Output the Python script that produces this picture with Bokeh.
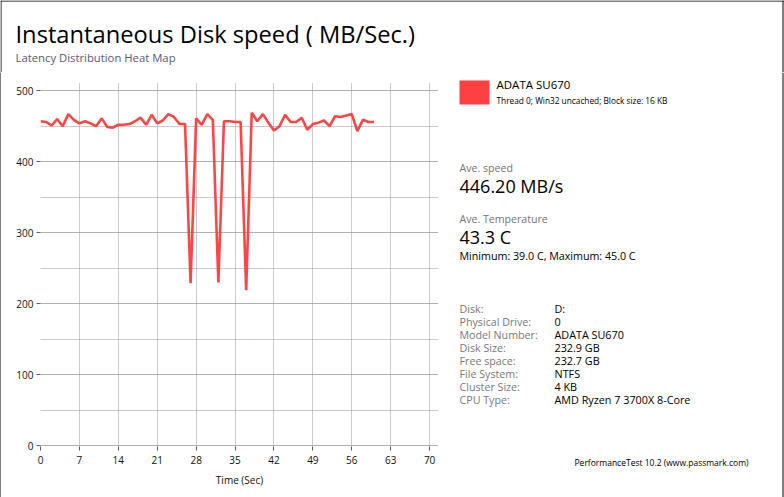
from bokeh.plotting import figure
from bokeh.layouts import row, column
from bokeh.models import SingleIntervalTicker, Range1d
from bokeh.core.properties import value
from bokeh.embed import file_html
from bokeh.resources import INLINE

# ---- data ----
time_sec = list(range(61))
speed_mbs = [457, 456, 451, 460, 450, 467, 459, 454, 457, 454,
             450, 461, 449, 448, 452, 452, 453, 457, 462, 452,
             466, 454, 458, 467, 463, 453, 453, 229, 461, 452,
             467, 459, 230, 457, 457, 456, 456, 219, 469, 457,
             467, 455, 444, 450, 466, 456, 456, 462, 445, 453,
             455, 458, 450, 464, 463, 465, 467, 443, 459, 456, 456]
x_tick_step = 7
y_tick_step = 100

title_text = "Instantaneous Disk speed ( MB/Sec.)"
subtitle_text = "Latency Distribution Heat Map"
series_name = "ADATA SU670"
series_desc = "Thread 0; Win32 uncached; Block size: 16 KB"
ave_speed_label = "Ave. speed"
ave_speed_value = "446.20 MB/s"
ave_temp_label = "Ave. Temperature"
ave_temp_value = "43.3 C"
temp_range = "Minimum: 39.0 C, Maximum: 45.0 C"
info_keys = ["Disk:", "Physical Drive:", "Model Number:", "Disk Size:",
             "Free space:", "File System:", "Cluster Size:", "CPU Type:"]
info_vals = ["D:", "0", "ADATA SU670", "232.9 GB", "232.7 GB", "NTFS",
             "4 KB", "AMD Ryzen 7 3700X 8-Core"]
footer = "PerformanceTest 10.2 (www.passmark.com)"

FONT = "Open Sans"
RED = "#ff3c3c"
W, H = 784, 497
HEAD_H = 72
CHART_W = 445
INFO_W = W - 1 - CHART_W
BODY_H = H - HEAD_H


def no_align(f):
    try:
        f.frame_align = False
    except Exception:
        pass


def text_fig(width, height, x0, y0):
    f = figure(width=width, height=height, output_backend="svg", toolbar_location=None,
               x_range=Range1d(x0, x0 + width), y_range=Range1d(y0 + height, y0),
               x_axis_type=None, y_axis_type=None, min_border=0)
    f.outline_line_color = None
    f.background_fill_color = "white"
    f.border_fill_color = "white"
    f.grid.visible = False
    no_align(f)
    return f


def put(f, txt, x, y, size, color="#000000"):
    # y is the visual baseline in page pixels; correct for renderer offset
    f.text(x=[x], y=[y - 0.42 * size], text=[txt], text_font=value(FONT),
           text_font_size=f"{size}px", text_color=color,
           text_baseline="alphabetic", text_align="left")


# ---- header ----
head = text_fig(W, HEAD_H, 0, 0)
head.segment(x0=[0, 0.5, 782.5], y0=[0.5, 0, 0], x1=[784, 0.5, 782.5], y1=[0.5, HEAD_H, HEAD_H],
             line_color="black", line_width=1)
put(head, title_text, 15, 43, 23.7)
put(head, subtitle_text, 15, 62, 11.3, "#5c5878")

# ---- left border strip ----
strip = figure(width=1, height=BODY_H, output_backend="svg", toolbar_location=None,
               x_axis_type=None, y_axis_type=None, min_border=0)
strip.outline_line_color = None
strip.background_fill_color = "black"
strip.border_fill_color = "black"
strip.grid.visible = False
no_align(strip)

# ---- chart ----
p = figure(width=CHART_W, height=BODY_H, output_backend="svg", toolbar_location=None,
           x_range=Range1d(0, 71.6), y_range=Range1d(-0.8, 511.5),
           min_border_left=39, min_border_right=CHART_W - 39 - 398,
           min_border_top=10, min_border_bottom=51)
p.outline_line_color = None
p.background_fill_color = "white"
p.border_fill_color = "white"
no_align(p)

p.line(time_sec, speed_mbs, line_color=RED, line_width=2.6, line_alpha=0.95)

p.xaxis.ticker = SingleIntervalTicker(interval=x_tick_step, num_minor_ticks=0)
p.yaxis.ticker = SingleIntervalTicker(interval=y_tick_step, num_minor_ticks=2)
for ax in (p.xaxis[0], p.yaxis[0]):
    ax.axis_line_color = None
    ax.major_tick_line_color = "#606060"
    ax.major_tick_out = 4
    ax.major_tick_in = 0
    ax.minor_tick_line_color = None
    ax.major_label_text_font = FONT
    ax.major_label_text_font_size = "10px"
    ax.major_label_text_color = "#111111"
p.xaxis.major_label_standoff = 5
p.yaxis.major_label_standoff = 3
p.xaxis.axis_label = "Time (Sec)"
p.xaxis.axis_label_text_font = FONT
p.xaxis.axis_label_text_font_size = "10px"
p.xaxis.axis_label_text_font_style = "normal"
p.xaxis.axis_label_text_color = "#111111"
p.xaxis.axis_label_standoff = 6

for g in (p.xgrid[0], p.ygrid[0]):
    g.grid_line_color = "#999999"
    g.grid_line_dash = "1 1"
    g.grid_line_width = 1
p.ygrid.minor_grid_line_color = "#999999"
p.ygrid.minor_grid_line_dash = "1 1"

# ---- info panel ----
info = text_fig(INFO_W, BODY_H, 1 + CHART_W, HEAD_H)
info.segment(x0=[782.5], y0=[HEAD_H], x1=[782.5], y1=[H], line_color="black", line_width=1)
info.quad(left=[459], right=[489], top=[80], bottom=[104], fill_color="#ff4040", line_color=None)
put(info, series_name, 496, 89, 11.5)
put(info, series_desc, 496, 103, 8.3)

put(info, ave_speed_label, 459, 172, 10.6, "#767676")
put(info, ave_speed_value, 459, 193, 18)
put(info, ave_temp_label, 459, 223, 10.6, "#767676")
put(info, ave_temp_value, 459, 244, 18)
put(info, temp_range, 459, 260, 10.7)

for i, (k, v) in enumerate(zip(info_keys, info_vals)):
    put(info, k, 459, 313 + 13 * i, 10.7, "#7a7a7a")
    put(info, v, 554, 313 + 13 * i, 10.8)

put(info, footer, 574, 466, 8.5)

layout = column(head, row(strip, p, info))
open("out.html", "w").write(file_html(layout, INLINE))
